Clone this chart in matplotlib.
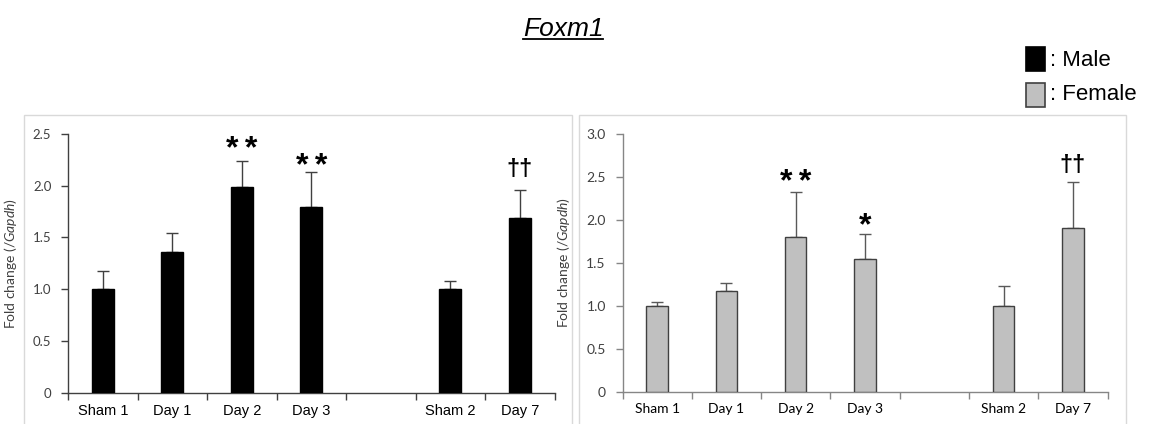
import matplotlib
matplotlib.use("Agg")
import matplotlib.pyplot as plt
from matplotlib.patches import Rectangle
from matplotlib.lines import Line2D
import numpy as np

# ---------------- data ----------------
categories = ["Sham 1", "Day 1", "Day 2", "Day 3", "Sham 2", "Day 7"]
slots = [0, 1, 2, 3, 5, 6]          # slot 4 is an empty gap
n_slots = 7

male_mean = [1.00, 1.36, 1.99, 1.79, 1.00, 1.69]
male_err = [0.18, 0.18, 0.25, 0.34, 0.08, 0.27]
male_marks = ["", "", "*\u2009*", "*\u2009*", "", "\u2020\u2020"]
male_mark_y = [None, None, 2.44, 2.28, None, 2.16]

female_mean = [1.00, 1.17, 1.80, 1.55, 1.00, 1.90]
female_err = [0.05, 0.10, 0.52, 0.29, 0.23, 0.54]
female_marks = ["", "", "*\u2009*", "*", "", "\u2020\u2020"]
female_mark_y = [None, None, 2.55, 2.04, None, 2.64]

male_yticks = [0, 0.5, 1.0, 1.5, 2.0, 2.5]
male_yticklabels = ["0", "0.5", "1.0", "1.5", "2.0", "2.5"]
female_yticks = [0, 0.5, 1.0, 1.5, 2.0, 2.5, 3.0]
female_yticklabels = ["0", "0.5", "1.0", "1.5", "2.0", "2.5", "3.0"]

title = "Foxm1"
ylabel = r"Fold change (/$\mathit{Gapdh}$)"

# ---------------- style ----------------
plt.rcParams["font.family"] = ["Liberation Sans", "DejaVu Sans"]
plt.rcParams["mathtext.fontset"] = "custom"
plt.rcParams["mathtext.rm"] = "Lato"
plt.rcParams["mathtext.it"] = "Lato:italic"

W, H = 1152, 424
fig = plt.figure(figsize=(W / 100, H / 100), dpi=100)


def fx(px):
    return px / W


def fy(py):
    return 1 - py / H


# chart-area frames (Excel style)
for x0, x1 in [(24, 572), (579, 1126)]:
    fig.add_artist(Rectangle((fx(x0), fy(440)), fx(x1 - x0), (440 - 115) / H,
                             transform=fig.transFigure, facecolor="white",
                             edgecolor="#D9D9D9", linewidth=1.0, zorder=0))

ax1 = fig.add_axes([fx(68), fy(392.6), fx(554.5 - 68), (392.6 - 134) / H])
ax2 = fig.add_axes([fx(622.5), fy(391.7), fx(1107.5 - 622.5), (391.7 - 134) / H])


def draw_panel(ax, means, errs, marks, mark_y, yticks, yticklabels, ymax,
               face, edge, ecolor, axcolor, xfont, xfs, yfs, ylab_x):
    ax.set_facecolor("none")
    centers = np.array(slots) + 0.5
    ax.bar(centers, means, width=0.31, color=face, edgecolor=edge,
           linewidth=1.0, zorder=3)
    ax.errorbar(centers, means, yerr=[np.zeros(len(errs)), errs], fmt="none",
                ecolor=ecolor, elinewidth=1.0, capsize=4, capthick=1.0, zorder=2)
    ax.set_xlim(0, n_slots)
    ax.set_ylim(0, ymax)
    for s in ["top", "right"]:
        ax.spines[s].set_visible(False)
    for s in ["left", "bottom"]:
        ax.spines[s].set_color(axcolor)
        ax.spines[s].set_linewidth(1.0)
    ax.set_xticks(np.arange(n_slots + 1))
    ax.set_xticklabels([])
    ax.set_xticks(centers, minor=True)
    ax.set_xticklabels(categories, minor=True, fontfamily=xfont, fontsize=xfs,
                       color="#000000")
    ax.tick_params(axis="x", which="major", direction="out", length=5,
                   color=axcolor, width=1.0)
    ax.tick_params(axis="x", which="minor", length=0, pad=8)
    ax.set_yticks(yticks)
    ax.set_yticklabels(yticklabels, fontfamily="Lato", fontsize=yfs,
                       color="#404040")
    ax.tick_params(axis="y", direction="out", length=5, color=axcolor,
                   width=1.0, pad=7)
    ax.set_ylabel(ylabel, fontfamily="Lato", fontsize=10, color="#404040")
    ax.yaxis.set_label_coords(ylab_x, 0.5)
    for c, m, y in zip(centers, marks, mark_y):
        if not m:
            continue
        if "*" in m:
            fs = 23
            off = -0.57 * fs
        else:
            fs = 17
            off = -0.28 * fs
        ax.annotate(m, (c, y), xytext=(0, off), textcoords="offset points",
                    ha="center", va="baseline", fontsize=fs,
                    fontweight="bold",
                    fontfamily=["Liberation Sans", "DejaVu Sans"],
                    color="#000000", annotation_clip=False)


draw_panel(ax1, male_mean, male_err, male_marks, male_mark_y,
           male_yticks, male_yticklabels, 2.5,
           face="#000000", edge="#000000", ecolor="#404040", axcolor="#404040",
           xfont="Liberation Sans", xfs=10.5, yfs=9.5, ylab_x=-0.1)
draw_panel(ax2, female_mean, female_err, female_marks, female_mark_y,
           female_yticks, female_yticklabels, 3.0,
           face="#C0C0C0", edge="#404040", ecolor="#595959", axcolor="#868686",
           xfont="Lato", xfs=10, yfs=10, ylab_x=-0.104)

# title (italic, underlined)
t = fig.text(fx(563), fy(36), title, ha="center", va="baseline",
             fontsize=19, fontstyle="italic", fontfamily="Liberation Sans",
             color="#000000")

# legend
leg_items = [(": Male", "#000000", "#000000", 47, 60),
             (": Female", "#C0C0C0", "#404040", 83, 95)]
for label, fc, ec, top, cy in leg_items:
    fig.add_artist(Rectangle((fx(1026), fy(top + 24)), fx(19), 24 / H,
                             transform=fig.transFigure, facecolor=fc,
                             edgecolor=ec, linewidth=1.2))
    fig.text(fx(1050), fy(cy), label, ha="left", va="center", fontsize=16,
             fontfamily="Liberation Sans", color="#000000")

fig.canvas.draw()
bb = t.get_window_extent(renderer=fig.canvas.get_renderer())
uy = fy(38.5)
fig.add_artist(Line2D([bb.x0 / W, bb.x1 / W], [uy, uy], transform=fig.transFigure,
                      color="#000000", linewidth=1.3))

fig.savefig("out.png", dpi=100)
